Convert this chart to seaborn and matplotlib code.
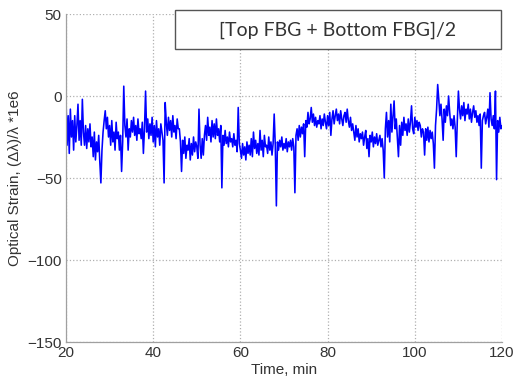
import numpy as np
import pandas as pd
import matplotlib
matplotlib.use("Agg")
import matplotlib.pyplot as plt
import seaborn as sns
from matplotlib.patches import Rectangle

# Strain values, 4 samples per minute from t=20 to t=120 min
strain = [
    -2, -30, -12, -35, -8, -25, -15, -33,
    -12, -28, -18, -5, -27, -15, -30, -2,
    -22, -30, -18, -32, -20, -28, -17, -31,
    -25, -37, -22, -39, -28, -34, -24, -40,
    -53, -33, -22, -15, -9, -20, -13, -25,
    -18, -30, -15, -28, -22, -33, -16, -26,
    -22, -33, -24, -46, -28, 6, -18, -25,
    -14, -33, -20, -25, -15, -22, -13, -24,
    -18, -27, -14, -23, -20, -26, -16, -35,
    -20, 3, -22, -14, -26, -17, -24, -13,
    -28, -18, -31, -15, -25, -20, -30, -17,
    -22, -27, -53, -4, -16, -24, -13, -21,
    -15, -25, -12, -22, -18, -26, -14, -20,
    -20, -28, -46, -27, -35, -25, -38, -30,
    -33, -26, -39, -29, -36, -25, -34, -28,
    -31, -38, -8, -30, -38, -26, -36, -24,
    -18, -27, -13, -24, -19, -28, -15, -25,
    -17, -26, -14, -24, -20, -28, -18, -56,
    -24, -30, -21, -29, -25, -31, -22, -28,
    -26, -31, -23, -30, -27, -34, -7, -29,
    -33, -38, -29, -36, -31, -39, -28, -35,
    -30, -36, -26, -37, -22, -32, -27, -35,
    -29, -36, -21, -33, -27, -37, -24, -31,
    -30, -35, -25, -33, -28, -36, -29, -11,
    -30, -67, -28, -33, -27, -31, -25, -33,
    -29, -32, -26, -34, -28, -31, -27, -33,
    -26, -31, -59, -24, -20, -27, -18, -25,
    -19, -23, -17, -37, -15, -19, -10, -17,
    -14, -7, -16, -11, -18, -13, -19, -15,
    -17, -12, -20, -14, -18, -11, -16, -20,
    -12, -18, -10, -24, -14, -9, -17, -12,
    -8, -15, -11, -17, -9, -14, -18, -12,
    -10, -16, -8, -15, -19, -13, -21, -17,
    -22, -27, -18, -25, -20, -28, -23, -26,
    -22, -30, -25, -21, -32, -26, -37, -24,
    -28, -22, -31, -25, -29, -23, -30, -27,
    -24, -31, -26, -33, -50, -20, -10, -25,
    -15, -28, -5, -22, -12, -3, -20, -14,
    -26, -37, -18, -30, -16, -24, -13, -21,
    -17, -24, -14, -22, -16, -6, -20, -23,
    -13, -19, -15, -21, -16, -18, -25, -20,
    -22, -36, -20, -27, -19, -28, -21, -26,
    -22, -29, -44, -18, -8, 7, -2, -12,
    -5, -14, -27, -8, -16, -6, -12, 0,
    -10, -18, -14, -20, -12, -19, -37, -15,
    3, -8, -14, -6, -12, -4, -15, -8,
    -11, -5, -14, -8, -16, -10, -6, -13,
    -9, -16, -12, -18, -11, -44, -15, -12,
    -10, -17, -13, -8, -19, 2, -14, -18,
    -12, -20, 3, -51, -15, -22, -13, -20,
    -18,
]
time_min = np.linspace(20, 120, len(strain))

x_ticks = [20, 40, 60, 80, 100, 120]
y_ticks = [-150, -100, -50, 0, 50]
legend_text = "[Top FBG + Bottom FBG]/2"
x_label = "Time, min"
y_label = "Optical Strain, (Δλ)/λ *1e6"

df = pd.DataFrame({"time": time_min, "strain": strain})

sns.set_style("white")
plt.rcParams["font.family"] = "sans-serif"
plt.rcParams["font.sans-serif"] = ["Liberation Sans"]

fig = plt.figure(figsize=(5.16, 3.81), dpi=100)
ax = fig.add_axes([66 / 516, 1 - 342 / 381, (502 - 66) / 516, (342 - 14) / 381])

sns.lineplot(data=df, x="time", y="strain", ax=ax, color="#0000ff", linewidth=1.15)

ax.set_xlim(20, 120)
ax.set_ylim(-150, 50)
ax.set_xticks(x_ticks)
ax.set_yticks(y_ticks)
ax.grid(True, linestyle=":", color="#b0b0b0", linewidth=0.9)
for s in ["top", "right"]:
    ax.spines[s].set_visible(False)
for s in ["left", "bottom"]:
    ax.spines[s].set_color("#a0a0a0")
    ax.spines[s].set_linewidth(0.9)
ax.tick_params(axis="both", length=0, labelsize=11, labelcolor="#333333", pad=3)
for lbl in ax.get_xticklabels() + ax.get_yticklabels():
    lbl.set_fontfamily("Liberation Sans")
ax.set_xlabel(x_label, fontsize=11, color="#333333", labelpad=2, family="Liberation Sans")
ax.set_ylabel(y_label, fontsize=11, color="#333333", labelpad=4, family=["Liberation Sans", "DejaVu Sans"])

# legend-like text box at top right
box = Rectangle((175 / 516, 1 - 49 / 381), (501 - 175) / 516, (49 - 10) / 381,
                transform=fig.transFigure, facecolor="white", edgecolor="#555555",
                linewidth=1.0, zorder=5)
fig.patches.append(box)
fig.text(338 / 516, 1 - 30 / 381, legend_text, ha="center", va="center",
         fontsize=14, color="#333333", family=["Lato", "DejaVu Sans"], zorder=6)

fig.savefig("out.png", dpi=100)
